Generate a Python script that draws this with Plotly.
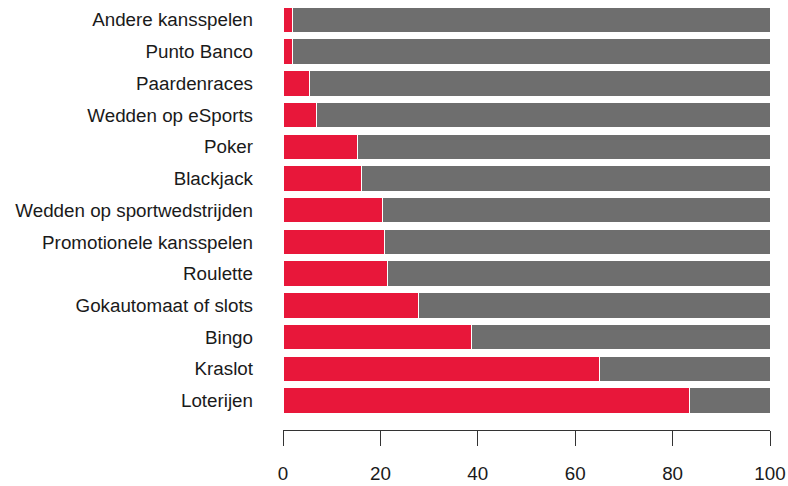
import plotly.graph_objects as go

categories = ["Andere kansspelen", "Punto Banco", "Paardenraces", "Wedden op eSports",
              "Poker", "Blackjack", "Wedden op sportwedstrijden", "Promotionele kansspelen",
              "Roulette", "Gokautomaat of slots", "Bingo", "Kraslot", "Loterijen"]
red_values = [1.9, 1.9, 5.4, 6.9, 15.3, 16.2, 20.5, 20.9, 21.5, 27.9, 38.7, 65.0, 83.4]
gray_values = [100 - v for v in red_values]
x_ticks = [0, 20, 40, 60, 80, 100]

RED = "#E8173A"
GRAY = "#6E6E6E"
FONT = "Liberation Sans, Arial, sans-serif"

fig = go.Figure()
fig.add_trace(go.Bar(y=categories, x=red_values, orientation="h",
                     marker=dict(color=RED, line=dict(color="white", width=1)),
                     width=0.8, showlegend=False))
fig.add_trace(go.Bar(y=categories, x=gray_values, orientation="h",
                     marker=dict(color=GRAY, line=dict(color="white", width=1)),
                     width=0.8, showlegend=False))

fig.update_layout(
    barmode="stack",
    width=788, height=486,
    margin=dict(l=282.5, r=18, t=3.6, b=56),
    plot_bgcolor="white", paper_bgcolor="white",
    font=dict(family=FONT, size=18.8, color="#1a1a1a"),
    xaxis=dict(range=[0, 100], tickvals=x_ticks, showgrid=False, zeroline=False,
               showline=True, linecolor="#333333", linewidth=1,
               ticks="outside", ticklen=15, tickcolor="#333333", tickwidth=1,
               anchor="free", position=0, ticklabelstandoff=11,
               tickfont=dict(size=18.8, color="#1a1a1a")),
    yaxis=dict(autorange="reversed", domain=[0.0319, 1], showgrid=False, zeroline=False,
               showline=False, ticks="", ticklabelstandoff=29,
               tickfont=dict(size=18.8, color="#1a1a1a")),
)

fig.write_html("out.html", config={"displayModeBar": False},
               post_script="document.body.style.margin='0';document.body.style.overflow='hidden';")
